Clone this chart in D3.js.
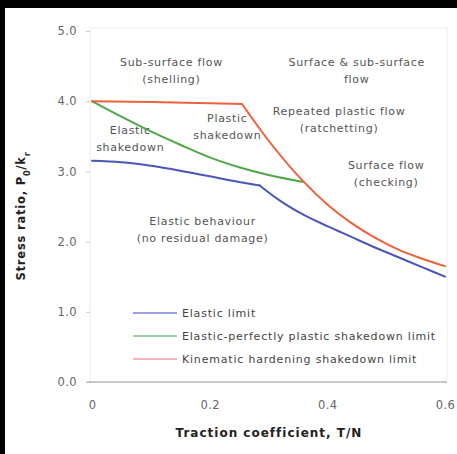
<!DOCTYPE html>
<html>
<head>
<meta charset="utf-8">
<script src="https://cdn.jsdelivr.net/npm/d3@7"></script>
<style>
  html, body { margin: 0; padding: 0; background: #000; }
  svg { display: block; }
  text { font-family: "DejaVu Sans", sans-serif; }
</style>
</head>
<body>
<div id="chart"></div>
<script>
// traction coefficient T/N and stress ratio values
var elasticX = [0, 0.05, 0.10, 0.15, 0.20, 0.25, 0.285, 0.32, 0.36, 0.40, 0.44, 0.48, 0.52, 0.56, 0.60];
var elasticY = [3.15, 3.13, 3.08, 3.01, 2.93, 2.85, 2.80, 2.58, 2.38, 2.22, 2.07, 1.92, 1.78, 1.64, 1.50];

var plasticX = [0, 0.05, 0.10, 0.15, 0.20, 0.25, 0.30, 0.36];
var plasticY = [4.00, 3.78, 3.57, 3.38, 3.20, 3.06, 2.95, 2.85];

var kinematicX = [0, 0.10, 0.20, 0.255, 0.30, 0.36, 0.40, 0.44, 0.48, 0.52, 0.56, 0.60];
var kinematicY = [4.00, 3.99, 3.97, 3.96, 3.44, 2.85, 2.53, 2.27, 2.06, 1.89, 1.76, 1.65];

// T/N where each curve has a corner (null = smooth)
var seriesKinks = [0.285, null, 0.255];

var seriesNames = ["Elastic limit", "Elastic-perfectly plastic shakedown limit", "Kinematic hardening shakedown limit"];
var seriesColors = ["#4a56b8", "#4fa845", "#f0603a"];
var legendColors = ["#8080d0", "#80c080", "#f49aa8"];

var yTicks = [0, 1, 2, 3, 4, 5];
var xTicks = [0, 0.2, 0.4, 0.6];
var xTickLabels = ["0", "0.2", "0.4", "0.6"];

var regionLabels = [
    { x: 0.135, y: 4.50, lines: ["Sub-surface flow", "(shelling)"] },
    { x: 0.45, y: 4.50, lines: ["Surface  & sub-surface", "flow"] },
    { x: 0.065, y: 3.53, lines: ["Elastic", "shakedown"] },
    { x: 0.23, y: 3.70, lines: ["Plastic", "shakedown"] },
    { x: 0.42, y: 3.81, lines: ["Repeated plastic flow", "(ratchetting)"] },
    { x: 0.50, y: 3.03, lines: ["Surface flow", "(checking)"] },
    { x: 0.188, y: 2.24, lines: ["Elastic behaviour", "(no residual damage)"] }
];

var width = 457,
    height = 454;

var x = d3.scaleLinear().domain([0, 0.6]).range([92, 445]);
var y = d3.scaleLinear().domain([0, 5]).range([382, 31]);

var svg = d3.select("#chart")
    .append("svg")
    .attr("width", width)
    .attr("height", height);

// white panel inside the black frame
svg.append("rect")
    .attr("x", 5).attr("y", 8)
    .attr("width", width - 5).attr("height", height - 8)
    .attr("fill", "#fff");

// faint plot border
svg.append("rect")
    .attr("x", 90).attr("y", 28)
    .attr("width", 357).attr("height", 354)
    .attr("fill", "none")
    .attr("stroke", "#eeeeee");

// y axis
var yAxis = svg.append("g")
    .attr("transform", "translate(90,0)")
    .call(d3.axisLeft(y).tickValues(yTicks).tickSize(4).tickPadding(9)
        .tickFormat(d3.format(".1f")));
yAxis.select(".domain").remove();
yAxis.selectAll("line").attr("stroke", "#cccccc");
yAxis.selectAll("text")
    .attr("fill", "#666")
    .style("font-size", "11.5px")
    .style("letter-spacing", "0.4px");

// x axis
var xAxis = svg.append("g")
    .attr("transform", "translate(0,382)")
    .call(d3.axisBottom(x).tickValues(xTicks).tickSize(0).tickPadding(19)
        .tickFormat(function (d, i) { return xTickLabels[i]; }));
xAxis.select(".domain").remove();
xAxis.selectAll("text")
    .attr("fill", "#666")
    .style("font-size", "11.5px")
    .style("letter-spacing", "0.4px");

svg.append("line")
    .attr("x1", 87).attr("x2", 447)
    .attr("y1", 382).attr("y2", 382)
    .attr("stroke", "#999")
    .attr("stroke-width", 1.2);

// axis titles
svg.append("text")
    .attr("x", 269).attr("y", 437)
    .attr("text-anchor", "middle")
    .style("font-size", "12px")
    .style("font-weight", "bold")
    .style("letter-spacing", "1px")
    .attr("fill", "#222")
    .text("Traction coefficient, T/N");

var yTitle = svg.append("text")
    .attr("transform", "translate(25,216) rotate(-90)")
    .attr("text-anchor", "middle")
    .style("font-size", "11.5px")
    .style("font-weight", "bold")
    .style("letter-spacing", "0.8px")
    .attr("fill", "#222");
yTitle.append("tspan").text("Stress ratio, P");
yTitle.append("tspan").attr("baseline-shift", "sub").style("font-size", "8px").text("0");
yTitle.append("tspan").text("/k");
yTitle.append("tspan").attr("baseline-shift", "sub").style("font-size", "8px").text("r");

// region labels
regionLabels.forEach(function (r) {
    var t = svg.append("text")
        .attr("text-anchor", "middle")
        .attr("fill", "#555")
        .style("font-size", "11px")
        .style("letter-spacing", "0.7px");
    r.lines.forEach(function (l, i) {
        t.append("tspan")
            .attr("x", x(r.x))
            .attr("y", y(r.y) + i * 17)
            .text(l);
    });
});

// curves
var line = d3.line()
    .x(function (d) { return x(d[0]); })
    .y(function (d) { return y(d[1]); })
    .curve(d3.curveMonotoneX);

var series = [
    d3.zip(elasticX, elasticY),
    d3.zip(plasticX, plasticY),
    d3.zip(kinematicX, kinematicY)
];

series.forEach(function (s, i) {
    var k = seriesKinks[i];
    // split at the corner so the smoothing keeps it sharp
    var pieces = k == null ? [s] : [
        s.filter(function (d) { return d[0] <= k; }),
        s.filter(function (d) { return d[0] >= k; })
    ];
    pieces.forEach(function (p) {
        svg.append("path")
            .datum(p)
            .attr("d", line)
            .attr("fill", "none")
            .attr("stroke", seriesColors[i])
            .attr("stroke-width", 2)
            .attr("stroke-linejoin", "round")
            .attr("stroke-linecap", "round");
    });
});

// legend
var legend = svg.append("g").attr("transform", "translate(133,313)");
seriesNames.forEach(function (name, i) {
    var row = legend.append("g").attr("transform", "translate(0," + (i * 23) + ")");
    row.append("line")
        .attr("x1", 0).attr("x2", 44)
        .attr("stroke", legendColors[i])
        .attr("stroke-width", 1.5);
    row.append("text")
        .attr("x", 49).attr("y", 4)
        .attr("fill", "#444")
        .style("font-size", "11px")
        .style("letter-spacing", "0.8px")
        .text(name);
});
</script>
</body>
</html>
